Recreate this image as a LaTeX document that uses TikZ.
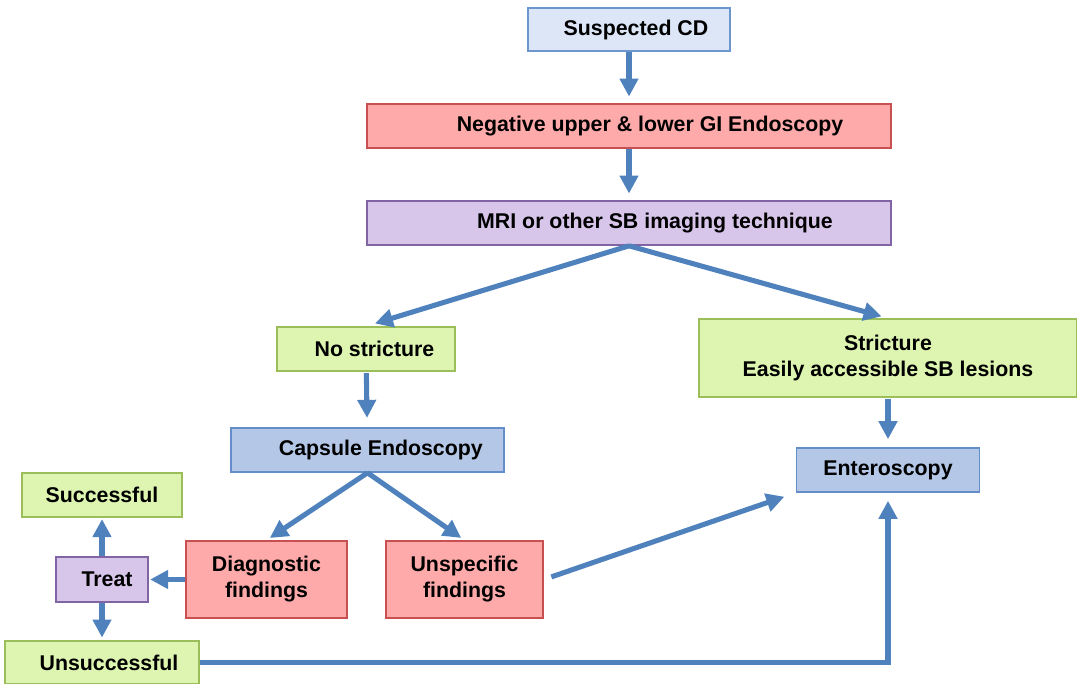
\documentclass[tikz,border=0pt]{standalone}
\usepackage{fontspec}
\setmainfont{Liberation Sans}
\usepackage{xcolor}
\usetikzlibrary{arrows.meta, positioning, calc}
\definecolor{flowblue}{RGB}{79,129,189}
\definecolor{paleblue}{RGB}{220,230,246}
\definecolor{paleblueline}{RGB}{108,150,206}
\definecolor{midblue}{RGB}{180,199,231}
\definecolor{midblueline}{RGB}{100,142,202}
\definecolor{rosefill}{RGB}{255,170,170}
\definecolor{roseline}{RGB}{200,80,80}
\definecolor{lilacfill}{RGB}{216,198,234}
\definecolor{lilacline}{RGB}{128,100,164}
\definecolor{limefill}{RGB}{221,245,176}
\definecolor{limeline}{RGB}{155,190,90}

\begin{document}
\begin{tikzpicture}[x=0.75pt, y=-0.75pt, every node/.style={draw, rectangle, line width=1.2pt, inner sep=0pt, align=center, font=\fontsize{16}{19.5}\selectfont\bfseries}, flow/.style={draw=flowblue, line width=3.8pt, -{Triangle[length=13.5pt,width=13.5pt]}}, nudge/.style={execute at begin node={\hspace*{#1}}}, startbox/.style={fill=paleblue, draw=paleblueline}, scopebox/.style={fill=midblue, draw=midblueline}, redbox/.style={fill=rosefill, draw=roseline}, lilacbox/.style={fill=lilacfill, draw=lilacline}, greenbox/.style={fill=limefill, draw=limeline}]
		\useasboundingbox (0,0) rectangle (1077,684);
		\node[startbox, nudge=10.5pt, minimum width=151.5pt, minimum height=32.25pt] (sus) at (629,29.5) {Suspected CD};
		\node[redbox, nudge=31.5pt, minimum width=393pt, minimum height=33pt] (neg) at (629,126) {Negative upper \& lower GI Endoscopy};
		\node[lilacbox, nudge=39pt, minimum width=393pt, minimum height=33pt] (mri) at (629,223) {MRI or other SB imaging technique};
		\node[greenbox, nudge=12.75pt, minimum width=133.5pt, minimum height=33pt] (nos) at (366,349) {No stricture};
		\node[greenbox, minimum width=283.5pt, minimum height=58.5pt] (str) at (888,358) {Stricture\\Easily accessible SB lesions};
		\node[scopebox, nudge=20pt, minimum width=204.75pt, minimum height=33pt] (cap) at (367.5,450) {Capsule Endoscopy};
		\node[scopebox, minimum width=137.25pt, minimum height=33pt] (ent) at (888,470) {Enteroscopy};
		\node[greenbox, minimum width=120pt, minimum height=33pt] (suc) at (102,495) {Successful};
		\node[lilacbox, nudge=7.5pt, minimum width=69pt, minimum height=33.75pt] (trt) at (102,579.5) {Treat};
		\node[redbox, minimum width=120.75pt, minimum height=57.75pt] (dia) at (266.5,579.5) {Diagnostic\\findings};
		\node[redbox, minimum width=117.75pt, minimum height=57.75pt] (uns) at (464.5,579.5) {Unspecific\\findings};
		\node[greenbox, nudge=10.5pt, minimum width=145.5pt, minimum height=32.25pt] (fail) at (102,662.5) {Unsuccessful};
		\draw[flow, shorten >=5pt] (sus) -- (neg);
		\draw[flow, shorten >=5pt] (neg) -- (mri);
		\draw[flow, shorten >=7pt] (mri.south) -- (nos.north);
		\draw[flow, shorten >=5pt] (mri.south) -- (str.north);
		\draw[flow, shorten <=1pt, shorten >=7pt] (nos) -- (cap);
		\draw[flow, shorten <=1pt, shorten >=6pt] (str) -- (ent);
		\draw[flow, shorten >=3pt] (cap.south) -- (dia.north);
		\draw[flow, shorten >=3pt] (cap.south) -- (uns.north);
		\draw[flow, shorten >=1pt] (dia) -- (trt);
		\draw[flow, shorten >=1pt] (trt) -- (suc);
		\draw[flow, shorten >=2pt] (trt) -- (fail);
		\draw[flow, shorten <=6pt, shorten >=9pt] (uns.east) -- (ent.south west);
		\draw[flow, shorten >=6pt] (fail.east) -| (ent.south);
	\end{tikzpicture}
\end{document}
